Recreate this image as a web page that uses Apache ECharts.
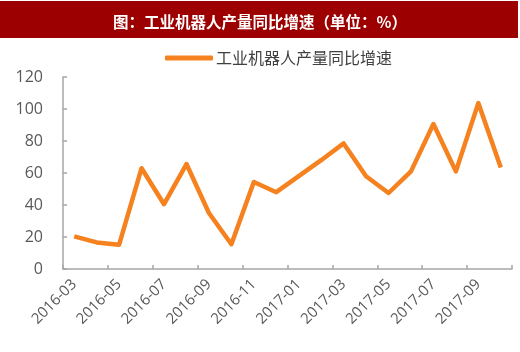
<!DOCTYPE html>
<html>
	<head>
		<meta charset="UTF-8">
		<title></title>
		<style>
			body{margin:0;background:#fff;}
		</style>
	</head>
	<body>
		<div id='line' style="width:520px;height:352px;"></div>
	</body>
	<script type="text/javascript" src="https://cdn.jsdelivr.net/npm/echarts@6/dist/echarts.min.js"></script>
	<script>
		var titleText = '图：工业机器人产量同比增速（单位：%）';
		var seriesName = '工业机器人产量同比增速';
		var months = ['2016-03','2016-04','2016-05','2016-06','2016-07','2016-08','2016-09','2016-10','2016-11','2016-12',
			'2017-01','2017-02','2017-03','2017-04','2017-05','2017-06','2017-07','2017-08','2017-09','2017-10'];
		var growth = [20.4, 16.6, 15.2, 63, 40.5, 65.6, 35, 15.5, 54.4, 48,
			58, 68, 78.5, 58, 47.5, 61, 90.6, 61, 103.7, 63.5];
		var yTicks = [0, 20, 40, 60, 80, 100, 120];

		var font = "'Open Sans','Noto Sans CJK SC',sans-serif";
		var chart = echarts.init(document.getElementById('line'));
		var option = {
			animation: false,
			textStyle: {fontFamily: font},
			graphic: [{
				type: 'rect',
				shape: {x: 0, y: 1, width: 518, height: 37},
				style: {fill: '#9c0000'},
				z: -1
			}],
			title: {
				text: titleText,
				left: 'center',
				top: 9,
				textStyle: {color: '#fff', fontSize: 15.5, fontWeight: 'bold', fontFamily: "'Noto Sans CJK SC',sans-serif"}
			},
			color: ['#f5821f'],
			legend: {
				data: [seriesName],
				left: 160,
				top: 45,
				icon: 'roundRect',
				itemWidth: 48,
				itemHeight: 5,
				itemGap: 4,
				textStyle: {color: '#404040', fontSize: 16, fontFamily: "'Noto Sans CJK SC',sans-serif", padding: [0, 0, 0, -2]}
			},
			grid: {left: 63, right: 8, top: 77, bottom: 83, containLabel: false},
			xAxis: {
				type: 'category',
				data: months,
				boundaryGap: true,
				axisLine: {lineStyle: {color: '#a6a6a6', width: 1.5}},
				axisTick: {show: true, inside: true, interval: 1, length: 4, lineStyle: {color: '#a6a6a6', width: 1.5}},
				axisLabel: {interval: 1, rotate: 45, color: '#595959', fontSize: 15, margin: 13}
			},
			yAxis: {
				type: 'value',
				min: yTicks[0],
				max: yTicks[yTicks.length - 1],
				interval: yTicks[1] - yTicks[0],
				axisLine: {show: true, lineStyle: {color: '#a6a6a6', width: 1.5}},
				axisTick: {show: true, inside: true, length: 4, lineStyle: {color: '#a6a6a6', width: 1.5}},
				splitLine: {show: false},
				axisLabel: {color: '#595959', fontSize: 16, margin: 20}
			},
			series: [{
				name: seriesName,
				type: 'line',
				data: growth,
				showSymbol: false,
				symbol: 'none',
				lineStyle: {width: 4.5, color: '#f5821f', join: 'round'}
			}]
		};
		chart.setOption(option);
	</script>
</html>
